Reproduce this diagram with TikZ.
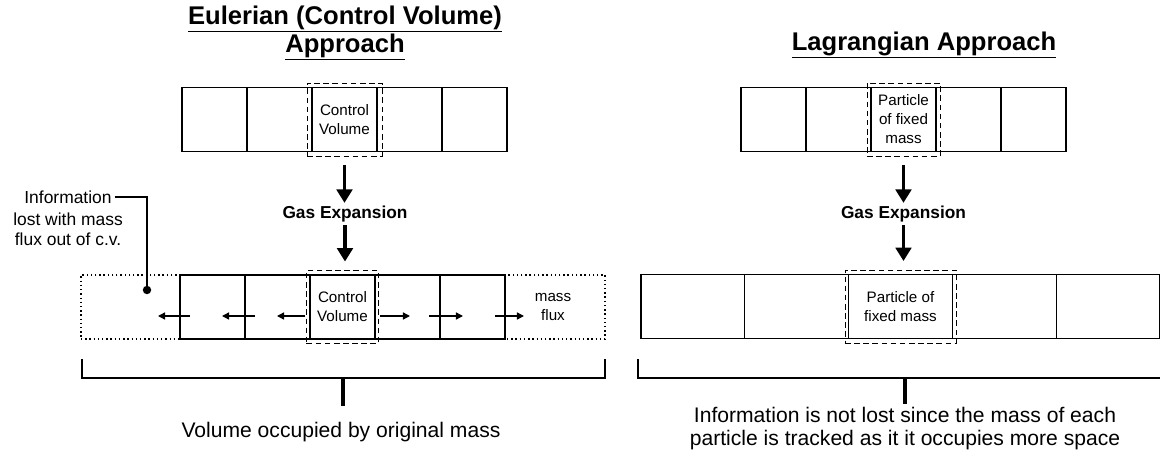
\documentclass[tikz,border=0pt]{standalone}
\usepackage{fontspec}
\setmainfont{Liberation Sans}
\usetikzlibrary{arrows.meta,positioning,calc}

\begin{document}
\begin{tikzpicture}[
		x=0.025cm, y=-0.025cm,
		cell/.style={draw, line width=0.9pt, minimum width=1.625cm, minimum height=1.6cm, inner sep=0pt, align=center, font=\fontsize{10.8pt}{13.5pt}\selectfont},
		wcell/.style={cell, minimum width=2.595cm},
		cvbox/.style={draw, line width=0.7pt, dash pattern=on 4pt off 2.5pt, inner sep=0pt, minimum height=1.825cm},
		ttl/.style={font=\fontsize{18.2pt}{18.8pt}\selectfont\bfseries, align=center},
		gas/.style={font=\fontsize{12.3pt}{14pt}\selectfont\bfseries, inner sep=1pt},
		big/.style={line width=2.6pt, -{Triangle[width=11pt,length=9.5pt]}},
		flux/.style={line width=1pt, -{Triangle[width=5pt,length=5pt]}},
		brk/.style={line width=1.4pt},
		stem/.style={line width=2.8pt},
		txt/.style={font=\fontsize{15pt}{16.4pt}\selectfont, align=center, inner sep=0pt},
		note/.style={font=\fontsize{12.4pt}{14.6pt}\selectfont, align=center, inner sep=2pt}
		]
		
		\clip (0,0) rectangle (1160,455);
		
		% Titles
		\node[ttl] (tE) at (345,33) {\underline{Eulerian (Control Volume)}\\\underline{Approach}};
		\node[ttl] (tL) at (924,45) {\underline{Lagrangian Approach}};
		
		% -------------------------
		% Eulerian column
		% -------------------------
		\foreach \i/\t in {1/,2/,3/{Control\\Volume},4/,5/}
			\node[cell] (eT\i) at (149.5+65*\i,119.5) {\t};
		\node[cvbox, minimum width=1.875cm] (cvE) at (eT3) {};
		
		\node[gas] (gE) at (345,214) {Gas Expansion};
		\draw[big, shorten <=6pt, shorten >=1pt] (cvE.south) -- (cvE.south |- gE.north);
		
		\node[draw, line width=1pt, dash pattern=on 1pt off 2pt, minimum width=13.1cm, minimum height=1.6cm] (dotE) at (343,307) {};
		\foreach \i/\t in {1/,2/,3/{Control\\Volume},4/,5/}
			\node[cell] (eB\i) at (147.5+65*\i,307) {\t};
		\node[cvbox, minimum width=1.8cm] (cvEb) at (eB3) {};
		\draw[big, shorten <=1pt, shorten >=6pt] (gE.south) -- (gE.south |- cvEb.north);
		
		% mass flux arrows
		\foreach \a/\b in {190/158, 255/222, 305/277, 380/410, 429/463, 495/524}
			\draw[flux] (\a,316) -- (\b,316);
		\node[cell, draw=none] (mf) at (553,307) {mass\\flux};
		
		% note on the left
		\node[note] (nA) at (68,197) {Information};
		\node[note, below=2pt of nA] (nB) {lost with mass\\flux out of c.v.};
		\coordinate (nDot) at (147,290);
		\draw[line width=1pt] (nA.east) -| (nDot);
		\fill (nDot) circle[radius=3pt];
		
		% bracket
		\coordinate (bE1) at (82,359);
		\coordinate (bE2) at (605,359);
		\coordinate (bEm) at (343,378);
		\draw[brk] (bE1) |- (bEm) -| (bE2);
		\node[txt] (vE) at (341,432) {Volume occupied by original mass};
		\draw[stem] (bEm) -- ++(0,28);
		
		% -------------------------
		% Lagrangian column
		% -------------------------
		\foreach \i/\t in {1/,2/,3/{Particle\\of fixed\\mass},4/,5/}
			\node[cell] (lT\i) at (708.5+65*\i,119.5) {\t};
		\node[cvbox, minimum width=1.825cm] (cvL) at (lT3) {};
		
		\node[gas] (gL) at (903.5,214) {Gas Expansion};
		\draw[big, shorten <=6pt, shorten >=1pt] (cvL.south) -- (cvL.south |- gL.north);
		
		\foreach \i/\t in {1/,2/,3/{Particle of\\fixed mass},4/,5/}
			\node[wcell] (lB\i) at (589.1+103.8*\i,306.5) {\t};
		\node[cvbox, minimum width=2.775cm] (cvLb) at (lB3) {};
		\draw[big, shorten <=1pt, shorten >=6pt] (gL.south) -- (gL.south |- cvLb.north);
		
		% bracket
		\coordinate (bL1) at (638,359);
		\coordinate (bL2) at (1172,359);
		\coordinate (bLm) at (905,378);
		\draw[brk] (bL1) |- (bLm) -| (bL2);
		\node[txt] (vL) at (905,429) {Information is not lost since the mass of each\\particle is tracked as it it occupies more space};
		\draw[stem] (bLm) -- ++(0,26);
		
	\end{tikzpicture}
\end{document}
